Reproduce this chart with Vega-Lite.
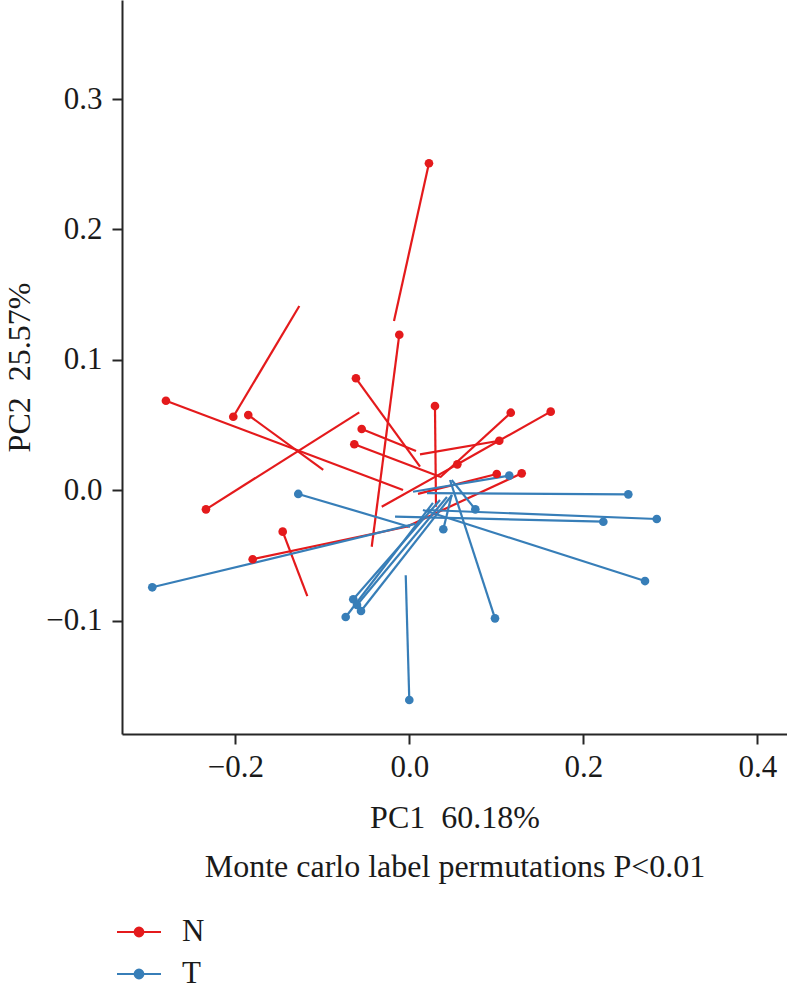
{
  "$schema": "https://vega.github.io/schema/vega-lite/v6.json",
  "width": 665,
  "height": 734,
  "autosize": {"type": "none"},
  "padding": {"left": 122, "top": 0, "right": 0, "bottom": 251},
  "background": "white",
  "config": {
    "view": {"stroke": null},
    "font": "Liberation Serif",
    "axis": {
      "grid": false,
      "domainColor": "#262626",
      "domainWidth": 2,
      "tickColor": "#262626",
      "tickWidth": 2,
      "tickSize": 10,
      "labelFont": "Liberation Serif",
      "labelFontSize": 31,
      "labelColor": "#1a1a1a",
      "titleFont": "Liberation Serif",
      "titleFontSize": 32,
      "titleFontWeight": "normal",
      "titleColor": "#1a1a1a"
    }
  },
  "data": {
    "values": [
      {"group": "N", "x": 0.0226, "y": 0.2508, "x2": -0.0176, "y2": 0.1298},
      {"group": "N", "x": -0.0115, "y": 0.1193, "x2": -0.0432, "y2": -0.0433},
      {"group": "N", "x": -0.0613, "y": 0.0859, "x2": 0.0123, "y2": 0.0181},
      {"group": "N", "x": -0.2797, "y": 0.0687, "x2": -0.0072, "y2": 0.0002},
      {"group": "N", "x": -0.2023, "y": 0.0564, "x2": -0.1264, "y2": 0.1413},
      {"group": "N", "x": -0.1851, "y": 0.0577, "x2": -0.0989, "y2": 0.0156},
      {"group": "N", "x": -0.2337, "y": -0.0146, "x2": -0.0575, "y2": 0.0598},
      {"group": "N", "x": -0.0547, "y": 0.047, "x2": 0.0077, "y2": 0.0301},
      {"group": "N", "x": -0.0632, "y": 0.0353, "x2": 0.0353, "y2": 0.0104},
      {"group": "N", "x": -0.1455, "y": -0.0317, "x2": -0.1172, "y2": -0.0811},
      {"group": "N", "x": -0.18, "y": -0.0529, "x2": 0.0008, "y2": -0.0274},
      {"group": "N", "x": 0.0295, "y": 0.0646, "x2": 0.0307, "y2": -0.0126},
      {"group": "N", "x": 0.1166, "y": 0.0595, "x2": 0.0353, "y2": 0.0098},
      {"group": "N", "x": 0.1625, "y": 0.0603, "x2": 0.0548, "y2": 0.0198},
      {"group": "N", "x": 0.1034, "y": 0.038, "x2": 0.0123, "y2": 0.0276},
      {"group": "N", "x": 0.0552, "y": 0.0199, "x2": -0.0317, "y2": -0.0126},
      {"group": "N", "x": 0.1005, "y": 0.0125, "x2": 0.01, "y2": -0.0028},
      {"group": "N", "x": 0.1292, "y": 0.013, "x2": -0.003, "y2": -0.0279},
      {"group": "T", "x": 0.0, "y": -0.1608, "x2": -0.0041, "y2": -0.0652},
      {"group": "T", "x": -0.2954, "y": -0.0744, "x2": 0.0066, "y2": -0.0258},
      {"group": "T", "x": -0.1276, "y": -0.0028, "x2": 0.0008, "y2": -0.0281},
      {"group": "T", "x": -0.0644, "y": -0.0836, "x2": 0.0353, "y2": -0.0074},
      {"group": "T", "x": -0.0601, "y": -0.088, "x2": 0.0433, "y2": -0.0051},
      {"group": "T", "x": -0.0555, "y": -0.0926, "x2": 0.0491, "y2": -0.0036},
      {"group": "T", "x": -0.0731, "y": -0.0972, "x2": 0.0272, "y2": -0.0097},
      {"group": "T", "x": 0.0391, "y": -0.0299, "x2": 0.0487, "y2": -0.0036},
      {"group": "T", "x": 0.0759, "y": -0.0146, "x2": 0.0487, "y2": 0.0079},
      {"group": "T", "x": 0.0985, "y": -0.0982, "x2": 0.0468, "y2": 0.0079},
      {"group": "T", "x": 0.1149, "y": 0.0112, "x2": 0.0043, "y2": -0.0011},
      {"group": "T", "x": 0.2517, "y": -0.0031, "x2": 0.0203, "y2": -0.0021},
      {"group": "T", "x": 0.2844, "y": -0.022, "x2": 0.02, "y2": -0.0151},
      {"group": "T", "x": 0.223, "y": -0.0241, "x2": -0.0164, "y2": -0.0202},
      {"group": "T", "x": 0.2709, "y": -0.0696, "x2": 0.0157, "y2": -0.0151}
    ]
  },
  "encoding": {
    "x": {
      "field": "x",
      "type": "quantitative",
      "scale": {"domain": [-0.3302, 0.4341], "nice": false, "zero": false},
      "axis": {
        "values": [-0.2, 0, 0.2, 0.4],
        "format": ".1f",
        "labelPadding": 8,
        "title": ["PC1\u00a0 60.18%", "Monte carlo label permutations P<0.01"],
        "titleLineHeight": 49,
        "titlePadding": 20
      }
    },
    "y": {
      "field": "y",
      "type": "quantitative",
      "scale": {"domain": [-0.1869, 0.376], "nice": false, "zero": false},
      "axis": {
        "values": [-0.1, 0, 0.1, 0.2, 0.3],
        "format": ".1f",
        "labelPadding": 10,
        "title": "PC2\u00a0 25.57%",
        "titlePadding": 9
      }
    },
    "color": {
      "field": "group",
      "type": "nominal",
      "scale": {"domain": ["N", "T"], "range": ["#E41A1C", "#377EB8"]},
      "legend": {
        "title": null,
        "orient": "none",
        "legendX": -4,
        "legendY": 911,
        "padding": 0,
        "rowPadding": 6,
        "symbolType": "M-1.1,0H1.1M-0.22,0A0.22,0.22,0,1,1,0.22,0A0.22,0.22,0,1,1,-0.22,0Z",
        "symbolSize": 1600,
        "symbolStrokeWidth": 2,
        "labelFont": "Liberation Serif",
        "labelFontSize": 31,
        "labelColor": "#1a1a1a",
        "labelOffset": 22,
        "encode": {
          "symbols": {
            "update": {
              "fill": {"scale": "color", "field": "value"},
              "stroke": {"scale": "color", "field": "value"},
              "strokeWidth": {"value": 2},
              "opacity": {"value": 1}
            }
          }
        }
      }
    }
  },
  "layer": [
    {
      "mark": {"type": "rule", "strokeWidth": 2.2},
      "encoding": {
        "x2": {"field": "x2"},
        "y2": {"field": "y2"}
      }
    },
    {
      "mark": {"type": "point", "filled": true, "shape": "circle", "size": 75, "opacity": 1}
    }
  ]
}
